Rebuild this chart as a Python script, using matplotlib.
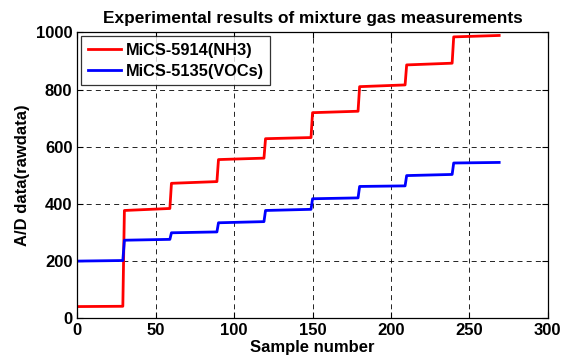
import matplotlib
matplotlib.use("Agg")
import matplotlib.pyplot as plt
import numpy as np

# step boundaries (sample number) and level start/end values
step_edges = [0, 30, 60, 90, 120, 150, 180, 210, 240, 270]
nh3_start = [41, 377, 472, 555, 628, 719, 810, 886, 984]
nh3_end = [42, 384, 478, 560, 632, 724, 816, 892, 989]
voc_start = [200, 273, 299, 334, 377, 418, 461, 499, 543]
voc_end = [202, 276, 302, 338, 381, 421, 463, 503, 545]

def step_series(edges, start, end):
	xs, ys = [], []
	for i in range(len(start)):
		xs += [edges[i], edges[i+1] - 1]
		ys += [start[i], end[i]]
	return xs, ys

plt.rcParams['font.family'] = ['Liberation Sans', 'DejaVu Sans']
plt.rcParams['font.weight'] = 'bold'

fig = plt.figure(figsize=(5.73, 3.59), dpi=100)
ax = fig.add_axes([0.135, 0.1134, 0.821, 0.7966])

x, y = step_series(step_edges, nh3_start, nh3_end)
ax.plot(x, y, color='#ff0000', lw=2.0, label='MiCS-5914(NH3)')
x, y = step_series(step_edges, voc_start, voc_end)
ax.plot(x, y, color='#0000ff', lw=2.0, label='MiCS-5135(VOCs)')

ax.set_xlim(0, 300)
ax.set_ylim(0, 1000)
ax.set_xticks(np.arange(0, 301, 50))
ax.set_yticks(np.arange(0, 1001, 200))
ax.grid(True, color='black', ls=(0, (6, 5)), lw=0.6)
ax.tick_params(direction='in', top=True, right=True, labelsize=12, length=4, width=0.8)
for lab in ax.get_xticklabels() + ax.get_yticklabels():
	lab.set_fontweight('bold')
for s in ax.spines.values():
	s.set_linewidth(0.9)

ax.set_title('Experimental results of mixture gas measurements', fontsize=12.4, fontweight='bold', pad=7)
ax.set_xlabel('Sample number', fontsize=12, fontweight='bold', labelpad=1.5)
ax.set_ylabel('A/D data(rawdata)', fontsize=12, fontweight='bold', labelpad=4)

leg = ax.legend(loc='upper left', fontsize=11.8, frameon=True, fancybox=False, handlelength=2.0,
	borderpad=0.4, labelspacing=0.35, handletextpad=0.3, borderaxespad=0.25)
leg.get_frame().set_edgecolor('black')
leg.get_frame().set_linewidth(0.9)
for t in leg.get_texts():
	t.set_fontweight('bold')

fig.savefig('out.png', dpi=100)
